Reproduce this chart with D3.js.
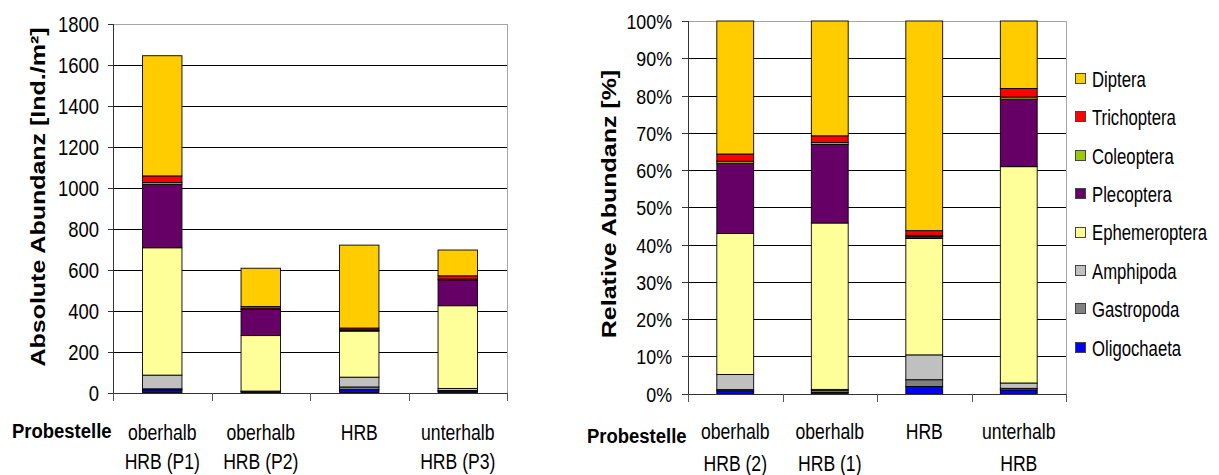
<!DOCTYPE html>
<html>
<head>
<meta charset="utf-8">
<script src="https://cdn.jsdelivr.net/npm/d3@7"></script>
<style>
  body { margin: 0; background: #fff; }
  svg { display: block; font-family: "Liberation Sans", Arial, sans-serif; }
</style>
</head>
<body>
<svg id="chart" width="1219" height="475"></svg>
<script>
// Taxa in stacking order (bottom to top) and their fills
const taxa = ["Oligochaeta", "Gastropoda", "Amphipoda", "Ephemeroptera", "Plecoptera", "Coleoptera", "Trichoptera", "Diptera"];
const taxonColors = ["#0000ff", "#808080", "#c0c0c0", "#ffff99", "#660066", "#99cc00", "#ff0000", "#ffcc00"];

// Sampling sites
const sites = ["P1", "P2", "HRB", "P3"];
const absLine1 = ["oberhalb", "oberhalb", "HRB", "unterhalb"];
const absLine2 = ["HRB (P1)", "HRB (P2)", "", "HRB (P3)"];
const relLine1 = ["oberhalb", "oberhalb", "HRB", "unterhalb"];
const relLine2 = ["HRB (2)", "HRB (1)", "", "HRB"];

// Abundance per taxon and site [Ind./m²]
const oligochaeta   = [13, 2, 14, 7];
const gastropoda    = [5, 3, 13, 3];
const amphipoda     = [67, 2, 48, 10];
const ephemeroptera = [622, 271, 225, 404];
const plecoptera    = [310, 128, 4, 126];
const coleoptera    = [9, 3, 2, 4];
const trichoptera   = [32, 11, 9, 16];
const diptera       = [587, 187, 405, 126];

// Axis ticks
const absTicks = [0, 200, 400, 600, 800, 1000, 1200, 1400, 1600, 1800];
const relTicks = [0, 0.1, 0.2, 0.3, 0.4, 0.5, 0.6, 0.7, 0.8, 0.9, 1];

const series = [oligochaeta, gastropoda, amphipoda, ephemeroptera, plecoptera, coleoptera, trichoptera, diptera];
const rows = sites.map((s, i) => {
  const r = { site: s };
  taxa.forEach((t, j) => { r[t] = series[j][i]; });
  return r;
});
const color = d3.scaleOrdinal().domain(taxa).range(taxonColors);

const svg = d3.select("#chart");

// Place a text horizontally condensed by factor k
function placeText(sel, x, y, k) {
  return sel.attr("transform", `translate(${x},${y}) scale(${k},1)`);
}

function drawPanel(cfg) {
  const w = cfg.x1 - cfg.x0, h = cfg.y1 - cfg.y0;
  const g = svg.append("g").attr("transform", `translate(${cfg.x0},${cfg.y0})`);

  const x = d3.scaleBand().domain(sites).range([0, w]).padding(0);
  const y = d3.scaleLinear().domain(cfg.domain).range([h, 0]);

  // horizontal gridlines
  const grid = g.append("g").attr("class", "grid")
    .call(d3.axisLeft(y).tickValues(cfg.ticks.slice(1, -1)).tickSize(-w).tickFormat(""));
  grid.select(".domain").remove();
  grid.selectAll("line").attr("stroke", "#000").attr("shape-rendering", "crispEdges");

  // plot frame (top and right)
  g.append("path")
    .attr("d", `M0,${y(cfg.domain[1])}H${w}V${h}`)
    .attr("fill", "none").attr("stroke", "#a6a6a6").attr("shape-rendering", "crispEdges");

  // stacked bars
  const stacked = cfg.stack(rows);
  const bw = x.bandwidth() * cfg.barFrac;
  g.append("g").selectAll("g").data(stacked).join("g")
    .attr("fill", d => color(d.key))
    .selectAll("rect").data(d => d).join("rect")
    .attr("x", d => x(d.data.site) + (x.bandwidth() - bw) / 2)
    .attr("width", bw)
    .attr("y", d => y(d[1]))
    .attr("height", d => y(d[0]) - y(d[1]))
    .attr("stroke", "#000").attr("stroke-width", 0.9);

  // y axis
  const ya = g.append("g")
    .call(d3.axisLeft(y).tickValues(cfg.ticks).tickSize(cfg.yTick).tickFormat(cfg.fmt))
    .attr("font-family", null);
  ya.select(".domain").attr("stroke", "#333").attr("shape-rendering", "crispEdges");
  ya.selectAll("line").attr("stroke", "#333").attr("shape-rendering", "crispEdges");
  ya.selectAll("text")
    .attr("x", null).attr("dy", null)
    .attr("text-anchor", "end").attr("dominant-baseline", "central")
    .attr("font-size", cfg.tickFont).attr("fill", "#000")
    .each(function () { placeText(d3.select(this), -cfg.labelGap, 0, cfg.tickK); });

  // x axis with separators at category boundaries
  const xb = d3.scaleLinear().domain([0, sites.length]).range([0, w]);
  const xa = g.append("g").attr("transform", `translate(0,${h})`)
    .call(d3.axisBottom(xb).ticks(sites.length).tickSize(8).tickFormat(""));
  xa.select(".domain").attr("stroke", "#333").attr("shape-rendering", "crispEdges");
  xa.selectAll("line").attr("stroke", "#555").attr("shape-rendering", "crispEdges");

  // category labels
  sites.forEach((s, i) => {
    const cx = x(s) + x.bandwidth() / 2;
    placeText(g.append("text").attr("text-anchor", "middle").attr("font-size", cfg.catFont)
      .text(cfg.line1[i]), cx, cfg.line1Y - cfg.y0, cfg.catK);
    if (cfg.line2[i]) {
      placeText(g.append("text").attr("text-anchor", "middle").attr("font-size", cfg.catFont)
        .text(cfg.line2[i]), cx, cfg.line2Y - cfg.y0, cfg.catK);
    }
  });

  // "Probestelle"
  placeText(svg.append("text").attr("font-weight", "bold").attr("font-size", 21)
    .attr("text-anchor", "start").text("Probestelle"), cfg.probX, cfg.probY, 0.88);

  // y title
  svg.append("text")
    .attr("transform", `translate(${cfg.titleX},${cfg.titleY}) scale(0.8,1) rotate(-90)`)
    .attr("text-anchor", "middle").attr("dominant-baseline", "central")
    .attr("font-weight", "bold").attr("font-size", 25)
    .text(cfg.title);
}

drawPanel({
  x0: 113, x1: 507, y0: 24, y1: 392.5,
  domain: [0, 1800], ticks: absTicks, fmt: d3.format("d"),
  stack: d3.stack().keys(taxa),
  barFrac: 0.4, yTick: 5, labelGap: 14, tickFont: 22, tickK: 0.84,
  catFont: 22, catK: 0.8, line1: absLine1, line2: absLine2, line1Y: 440, line2Y: 469,
  probX: 12, probY: 438,
  titleX: 38, titleY: 197, title: "Absolute Abundanz [Ind./m²]"
});

drawPanel({
  x0: 688, x1: 1066, y0: 21, y1: 393.7,
  domain: [0, 1], ticks: relTicks, fmt: d3.format(".0%"),
  stack: d3.stack().keys(taxa).offset(d3.stackOffsetExpand),
  barFrac: 0.39, yTick: 6, labelGap: 16, tickFont: 21, tickK: 0.85,
  catFont: 22, catK: 0.8, line1: relLine1, line2: relLine2, line1Y: 439, line2Y: 471,
  probX: 587, probY: 443,
  titleX: 609, titleY: 204, title: "Relative Abundanz [%]"
});

// legend, top entry = top of stack
const legend = svg.append("g").attr("transform", "translate(1075,79)");
const legendItems = taxa.slice().reverse();
legendItems.forEach((t, i) => {
  const row = legend.append("g").attr("transform", `translate(0,${i * 38.4})`);
  row.append("rect").attr("x", 0.5).attr("y", -5.5).attr("width", 10).attr("height", 10)
    .attr("fill", color(t)).attr("stroke", "#444").attr("shape-rendering", "crispEdges");
  placeText(row.append("text").attr("font-size", 22).attr("dominant-baseline", "central")
    .text(t), 17, 0, 0.76);
});
</script>
</body>
</html>
